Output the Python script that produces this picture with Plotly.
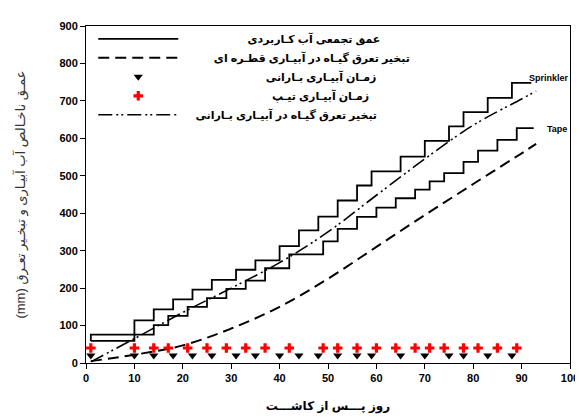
import plotly.graph_objects as go

# ---- data ----
sprinkler_days = [1, 1, 10, 14, 18, 22, 26, 31, 35, 40, 44, 48, 52, 56, 59, 65, 70, 75, 78, 83, 88, 92]
sprinkler_depth = [59, 76, 114, 143, 170, 196, 222, 249, 274, 312, 354, 391, 434, 474, 512, 551, 593, 632, 670, 708, 748, 748]

tape_days = [1, 10, 14, 17, 21, 25, 29, 33, 37, 42, 49, 52, 56, 60, 64, 68, 71, 74, 78, 81, 85, 89, 92.5]
tape_depth = [59, 76, 101, 126, 150, 173, 198, 220, 253, 290, 325, 358, 390, 415, 440, 463, 485, 507, 537, 567, 596, 627, 627]

et_days = [1, 10, 20, 30, 40, 50, 60, 70, 80, 90, 93]
et_drip = [5, 22, 47, 92, 150, 225, 310, 395, 478, 560, 585]
et_sprinkler = [3, 65, 135, 200, 268, 350, 448, 545, 635, 705, 726]

sprinkler_irr_days = [1, 10, 14, 18, 22, 26, 31, 35, 40, 44, 48, 52, 56, 59, 65, 70, 75, 78, 83, 88]
sprinkler_irr_level = [20] * len(sprinkler_irr_days)
tape_irr_days = [1, 10, 14, 17, 21, 25, 29, 33, 37, 42, 49, 52, 56, 60, 64, 68, 71, 74, 78, 81, 85, 89]
tape_irr_level = [40] * len(tape_irr_days)

x_ticks = list(range(0, 101, 10))
y_ticks = list(range(0, 901, 100))

names = {
    "applied": "عمق تجمعی آب کـاربردی",
    "et_drip": "تبخیر تعرق گیـاه در آبیـاری قطـره ای",
    "irr_sprinkler": "زمـان آبیـاری بـارانی",
    "irr_tape": "زمـان آبیـاری تیـپ",
    "et_sprinkler": "تبخیر تعرق گیـاه در آبیـاری بـارانی",
}
# leading no-break spaces to push the right-to-left labels towards a common right edge
pads = {"applied": 21, "et_drip": 10, "irr_sprinkler": 27, "irr_tape": 29, "et_sprinkler": 4}

def lab(key):
    return "\u00a0" * pads[key] + names[key]

FONT = "Liberation Sans, Arial, DejaVu Sans, sans-serif"

fig = go.Figure()
fig.add_trace(go.Scatter(x=sprinkler_days, y=sprinkler_depth, mode="lines", line_shape="hv",
                         line=dict(color="black", width=1.8), name=lab("applied"), legendrank=1))
fig.add_trace(go.Scatter(x=tape_days, y=tape_depth, mode="lines", line_shape="hv",
                         line=dict(color="black", width=1.8), showlegend=False))
fig.add_trace(go.Scatter(x=et_days, y=et_drip, mode="lines", line_shape="spline",
                         line=dict(color="black", width=2, dash="11px,6px"), name=lab("et_drip"), legendrank=2))
fig.add_trace(go.Scatter(x=sprinkler_irr_days, y=sprinkler_irr_level, mode="markers",
                         marker=dict(symbol="triangle-down", color="black", size=8),
                         name=lab("irr_sprinkler"), legendrank=3))
fig.add_trace(go.Scatter(x=tape_irr_days, y=tape_irr_level, mode="markers",
                         marker=dict(symbol="cross", color="red", size=8),
                         name=lab("irr_tape"), legendrank=4))
fig.add_trace(go.Scatter(x=et_days, y=et_sprinkler, mode="lines", line_shape="spline",
                         line=dict(color="black", width=1.6, dash="14px,4px,2px,3px,2px,4px"),
                         name=lab("et_sprinkler"), legendrank=5))

fig.add_annotation(x=91.2, y=761, text="Sprinkler", showarrow=False, xanchor="left", yanchor="middle",
                   font=dict(family=FONT, size=9, color="black", weight="bold"))
fig.add_annotation(x=94.9, y=625, text="Tape", showarrow=False, xanchor="left", yanchor="middle",
                   font=dict(family=FONT, size=9, color="black", weight="bold"))

axis_common = dict(showgrid=False, zeroline=False, showline=True, linecolor="black", linewidth=1,
                   mirror=True, ticks="outside", ticklen=5, tickcolor="black",
                   tickfont=dict(family=FONT, size=11, color="black", weight="bold"))

fig.update_xaxes(range=[0, 100], tickvals=x_ticks, **axis_common,
                 title=dict(text="روز پـــس از کاشـــت" + "\u00a0" * 6, standoff=18,
                            font=dict(family=FONT, size=12, color="black", weight="bold")))
fig.update_yaxes(range=[0, 900], tickvals=y_ticks, **axis_common,
                 title=dict(text="(mm) عمـق ناخـالص آب آبیـاری و تبخـیر تعـرق", standoff=30,
                            font=dict(family=FONT, size=13, color="#333333")))

fig.update_layout(
    width=583, height=419,
    margin=dict(l=77, r=18, t=14, b=64),
    paper_bgcolor="white", plot_bgcolor="white",
    legend=dict(x=0.015, y=1.005, xanchor="left", yanchor="top", bgcolor="rgba(0,0,0,0)",
                itemwidth=80, tracegroupgap=0,
                font=dict(family=FONT, size=11, color="black", weight="bold")),
)

fig.write_html("out.html")
